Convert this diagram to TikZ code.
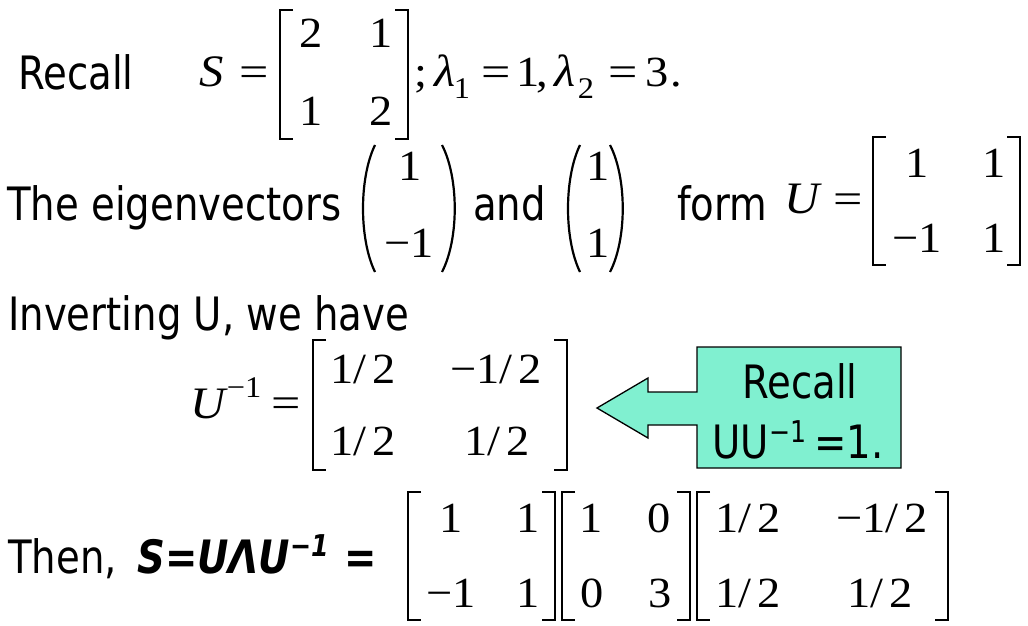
\documentclass[tikz,border=0pt]{standalone}
\usepackage{fontspec}
\setmainfont[FakeStretch=0.84]{DejaVu Sans}
\newfontfamily\serifm[FakeStretch=1.08]{Liberation Serif}
\definecolor{calloutfill}{HTML}{80F0D0}
\newcommand\tsz{\fontsize{46}{50}\selectfont}
\newcommand\msz{\serifm\fontsize{43}{47}\selectfont}
\newcommand\misz{\serifm\itshape\fontsize{45}{49}\selectfont}
\newcommand\ssz{\serifm\fontsize{30}{33}\selectfont}
\newcommand\halfm{1/\hspace{6pt}2}
\newcommand\eqm{\scalebox{1.12}[1]{=}}
\begin{document}
\begin{tikzpicture}[x=1pt,y=-1pt,
 txt/.style={anchor=base west,inner sep=0pt,font=\tsz},
 mc/.style={anchor=base,inner sep=0pt,font=\msz},
 mi/.style={anchor=base,inner sep=0pt,font=\misz},
 ms/.style={anchor=base,inner sep=0pt,font=\ssz},
 brk/.style={line width=2.2pt},
 paren/.style={line width=2.2pt},
 callout/.style={fill=calloutfill,draw=black,line width=1.3pt,line join=miter}]
\useasboundingbox (0,0) rectangle (1028,626);

% ---- line 1
\node[txt] (recall1) at (18,89) {Recall};
\node[mi] (S1) at (212,87) {S};
\node[mc] (eq1) at (254,87) {\eqm};
\draw[brk] (293,10) -| (280,139) -- ++(13,0);
\draw[brk] (395,10) -| (408,139) -- ++(-13,0);
\node[mc] (s11) at (311,48) {2};
\node[mc] (s12) at (381,48) {1};
\node[mc] (s21) at (311,125) {1};
\node[mc] (s22) at (381,125) {2};
\node[mc] (semi) at (421,87) {;};
\node[mi] (lam1) at (445,87) {λ};
\node[ms] (lam1s) at (462,99) {1};
\node[mc] (eq2) at (496,87) {\eqm};
\node[mc] (one) at (528,87) {1};
\node[mc] (comma) at (542,87) {,};
\node[mi] (lam2) at (565,87) {λ};
\node[ms] (lam2s) at (586,99) {2};
\node[mc] (eq3) at (623,87) {\eqm};
\node[mc] (three) at (657,87) {3};
\node[mc] (dot) at (676,87) {.};

% ---- line 2
\node[txt] (eig) at (7,220) {The eigenvectors};
\draw[paren] (375,145) .. controls (359,178) and (359,239) .. (375,272);
\draw[paren] (442,145) .. controls (459,178) and (459,239) .. (442,272);
\node[mc] (v11) at (410,180) {1};
\node[mc] (v12) at (409,257) {−1};
\node[txt] (and) at (473,220) {and};
\draw[paren] (580,145) .. controls (564,178) and (564,239) .. (580,272);
\draw[paren] (610,145) .. controls (627,178) and (627,239) .. (610,272);
\node[mc] (v21) at (598,180) {1};
\node[mc] (v22) at (598,257) {1};
\node[txt] (form) at (677,220) {form};
\node[mi] (U1) at (802,213) {U};
\node[mc] (eq4) at (848,213) {\eqm};
\draw[brk] (886,137) -| (873,265) -- ++(13,0);
\draw[brk] (1007,137) -| (1020,265) -- ++(-13,0);
\node[mc] (u11) at (917,177) {1};
\node[mc] (u12) at (994,177) {1};
\node[mc] (u21) at (917,252) {−1};
\node[mc] (u22) at (994,252) {1};

% ---- line 3
\node[txt] (inv) at (8,330) {Inverting U, we have};
\node[mi] (U2) at (208,418) {U};
\node[ms] (U2s) at (244,397) {−1};
\node[mc] (eq5) at (286,417) {\eqm};
\draw[brk] (326,340) -| (313,470) -- ++(13,0);
\draw[brk] (554,340) -| (567,470) -- ++(-13,0);
\node[mc] (i11) at (363,383) {\halfm};
\node[mc] (i12) at (496,383) {−\halfm};
\node[mc] (i21) at (363,455) {\halfm};
\node[mc] (i22) at (497,455) {\halfm};

% ---- callout
\path[callout] (697,347) -- (901,347) -- (901,468) -- (697,468) -- (697,425)
  -- (648,425) -- (648,438) -- (597,408) -- (648,378) -- (648,392) -- (697,392) -- cycle;
\node[anchor=base,inner sep=0pt,font=\tsz] (recall2) at (800,398) {Recall};
\node[anchor=base,inner sep=0pt,font=\tsz] (uu) at (798,458)
  {UU\raisebox{16pt}{\fontsize{30}{32}\selectfont −1}\hspace{8pt}=1.};

% ---- line 5
\node[txt] (then) at (8,573) {Then,};
\node[txt,font=\tsz\bfseries\itshape] (prod) at (137,573)
  {S=UΛU\raisebox{17pt}{\fontsize{30}{32}\selectfont −1}\hspace{16pt}=};
\draw[brk] (421,492) -| (408,620) -- ++(13,0);
\draw[brk] (542,492) -| (555,620) -- ++(-13,0);
\node[mc] (a11) at (451,532) {1};
\node[mc] (a12) at (528,532) {1};
\node[mc] (a21) at (451,607) {−1};
\node[mc] (a22) at (528,607) {1};
\draw[brk] (575,492) -| (562,620) -- ++(13,0);
\draw[brk] (677,492) -| (690,620) -- ++(-13,0);
\node[mc] (b11) at (591,532) {1};
\node[mc] (b12) at (659,532) {0};
\node[mc] (b21) at (592,607) {0};
\node[mc] (b22) at (660,607) {3};
\draw[brk] (710,492) -| (697,620) -- ++(13,0);
\draw[brk] (935,492) -| (948,620) -- ++(-13,0);
\node[mc] (c11) at (748,532) {\halfm};
\node[mc] (c12) at (882,532) {−\halfm};
\node[mc] (c21) at (748,607) {\halfm};
\node[mc] (c22) at (880,607) {\halfm};
\end{tikzpicture}
\end{document}
